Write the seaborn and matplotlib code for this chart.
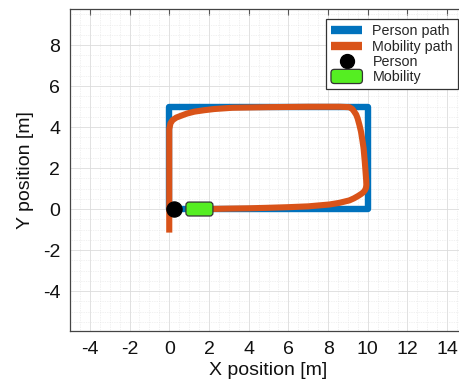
import matplotlib
matplotlib.use("Agg")
import matplotlib.pyplot as plt
import pandas as pd
import seaborn as sns
from matplotlib.patches import FancyBboxPatch, Patch
from matplotlib.lines import Line2D
from matplotlib.legend_handler import HandlerPatch
from matplotlib.ticker import MultipleLocator

# Person reference path (rectangle loop) and mobility trajectory, in metres
person_path_x = [0.0, 0.0, 10.0, 10.0, 0.25]
person_path_y = [0.0, 5.0, 5.0, 0.0, 0.0]

mobility_path_x = [0.0, 0.0, 0.06, 0.17, 0.35, 0.59, 0.9, 1.26, 1.75, 2.27, 3.17, 5.0, 7.0,
                   8.6, 9.07, 9.22, 9.32, 9.42, 9.49, 9.58, 9.66, 9.73, 9.79, 9.85, 9.89, 9.92,
                   9.93, 9.91, 9.86, 9.78, 9.66, 9.5, 9.3, 9.07, 8.56, 8.06, 7.0, 6.0, 5.0, 4.0,
                   3.0, 2.2, 1.52]
mobility_path_y = [-1.15, 3.9, 4.18, 4.34, 4.46, 4.55, 4.66, 4.75, 4.82, 4.88, 4.94, 4.97, 4.99,
                   4.99, 4.97, 4.88, 4.75, 4.6, 4.42, 4.1, 3.77, 3.35, 2.96, 2.31, 1.8, 1.4,
                   1.18, 1.03, 0.92, 0.82, 0.73, 0.63, 0.52, 0.42, 0.3, 0.22, 0.13, 0.09, 0.06, 0.035,
                   0.02, 0.005, 0.0]

person_pos = (0.25, 0.0)
mobility_pos = (1.52, 0.0)

labels = ["Person path", "Mobility path", "Person", "Mobility"]
x_ticks = list(range(-4, 15, 2))
y_ticks = list(range(-4, 9, 2))

BLUE = "#0072BD"
ORANGE = "#D95319"
GREEN = "#55EE22"

sns.set_style("white")
plt.rcParams["font.family"] = ["Liberation Sans", "DejaVu Sans"]

fig = plt.figure(figsize=(4.59, 3.91), dpi=100)
ax = fig.add_axes([0.1525, 0.1535, 0.865, 0.823])

person_df = pd.DataFrame({"x": person_path_x, "y": person_path_y})
mobility_df = pd.DataFrame({"x": mobility_path_x, "y": mobility_path_y})

sns.lineplot(data=person_df, x="x", y="y", sort=False, estimator=None, ax=ax,
             color=BLUE, linewidth=4.6, solid_joinstyle="round", solid_capstyle="round",
             zorder=3)
sns.lineplot(data=mobility_df, x="x", y="y", sort=False, estimator=None, ax=ax,
             color=ORANGE, linewidth=4.4, solid_joinstyle="round", solid_capstyle="butt",
             zorder=4)
sns.scatterplot(x=[person_pos[0]], y=[person_pos[1]], ax=ax, color="black", s=120,
                edgecolor="black", zorder=6)

# Mobility body drawn as a rounded box centred on its position
box_w, box_h = 1.36, 0.68
ax.add_patch(FancyBboxPatch((mobility_pos[0] - box_w / 2, mobility_pos[1] - box_h / 2),
                            box_w, box_h,
                            boxstyle="round,pad=0,rounding_size=0.15",
                            facecolor=GREEN, edgecolor="#333333", linewidth=0.9, zorder=6))

ax.set_xlim(-5, 15)
ax.set_ylim(-5.95, 9.75)
ax.set_xticks(x_ticks)
ax.set_yticks(y_ticks)
ax.set_xticklabels([str(t) for t in x_ticks])
ax.set_yticklabels([str(t) for t in y_ticks])
ax.xaxis.set_minor_locator(MultipleLocator(0.5))
ax.yaxis.set_minor_locator(MultipleLocator(0.5))
ax.tick_params(which="major", direction="in", length=4, width=0.8, color="#555555",
               top=True, right=True, labelsize=14, pad=7, labelcolor="#111111")
ax.tick_params(which="minor", length=0, top=True, right=True)
ax.grid(True, which="major", color="#dcdcdc", linewidth=0.6, linestyle="-")
ax.grid(True, which="minor", color="#e3e3e3", linewidth=0.5, linestyle=(0, (1, 1.5)))
ax.set_axisbelow(True)
for spine in ax.spines.values():
    spine.set_color("#444444")
    spine.set_linewidth(0.9)

ax.set_xlabel("X position [m]", fontsize=14, color="#111111", labelpad=3)
ax.set_ylabel("Y position [m]", fontsize=14, color="#111111", labelpad=6)


class RoundBoxHandler(HandlerPatch):
    def create_artists(self, legend, orig_handle, xdescent, ydescent, width, height,
                       fontsize, trans):
        p = FancyBboxPatch((-xdescent, -ydescent - 1.5), width, height + 3,
                           boxstyle="round,pad=0,rounding_size=2.5",
                           facecolor=orig_handle.get_facecolor(),
                           edgecolor=orig_handle.get_edgecolor(),
                           linewidth=0.9, transform=trans)
        return [p]


handles = [
    Line2D([], [], color=BLUE, linewidth=6, solid_capstyle="butt"),
    Line2D([], [], color=ORANGE, linewidth=6, solid_capstyle="butt"),
    Line2D([], [], color="black", marker="o", linestyle="none", markersize=10),
    Patch(facecolor=GREEN, edgecolor="#333333"),
]
leg = ax.legend(handles, labels, loc="upper right", bbox_to_anchor=(0.998, 0.951),
                bbox_transform=fig.transFigure, borderaxespad=0, fontsize=10.3,
                frameon=True, fancybox=False, edgecolor="#333333", framealpha=1,
                handlelength=2.2, handletextpad=0.7, labelspacing=0.1, borderpad=0.35,
                handler_map={Patch: RoundBoxHandler()})
leg.get_frame().set_linewidth(0.9)
leg.set_zorder(10)

fig.savefig("out.png", dpi=100)
